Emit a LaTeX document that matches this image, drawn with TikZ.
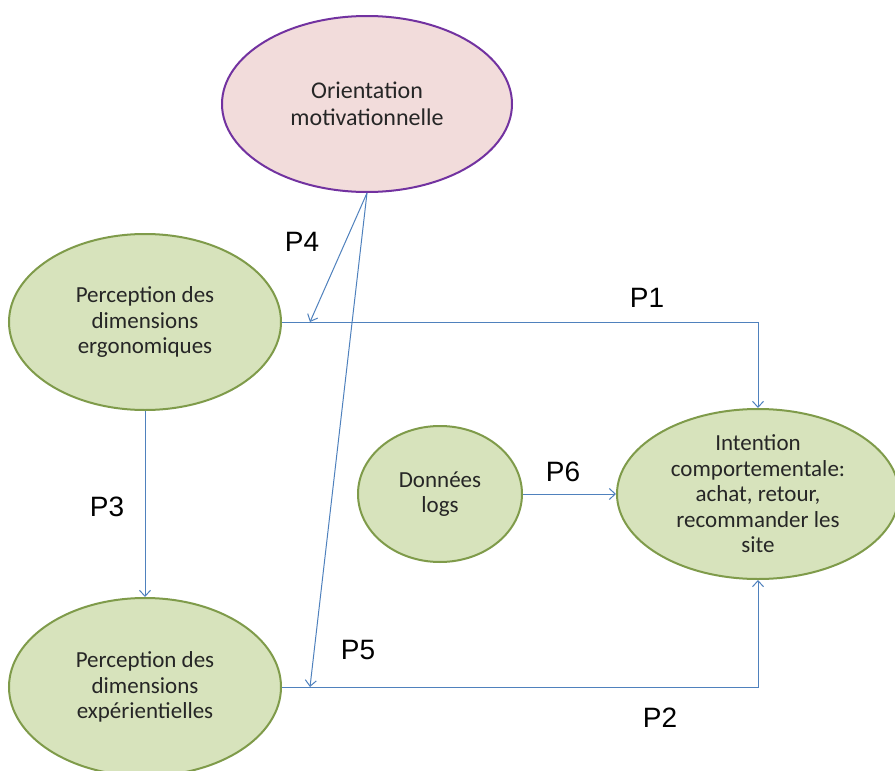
\documentclass[tikz,border=0pt]{standalone}
\usepackage{fontspec}
\setmainfont{Carlito}
\newfontfamily\labfont{Liberation Sans}
\usetikzlibrary{shapes.geometric,arrows.meta}
\definecolor{gfill}{HTML}{D7E3BC}
\definecolor{gdraw}{HTML}{7F9B4A}
\definecolor{pfill}{HTML}{F2DCDB}
\definecolor{pdraw}{HTML}{7232A0}
\definecolor{lblue}{HTML}{4F81BD}
\definecolor{txt}{HTML}{262626}
\tikzset{
  oval/.style={ellipse, draw=gdraw, fill=gfill, line width=2pt, inner sep=0pt,
    align=center, text=txt, font=\fontsize{23}{25.5}\selectfont},
  pinkoval/.style={oval, draw=pdraw, fill=pfill, font=\fontsize{24}{27}\selectfont},
  conn/.style={draw=lblue, line width=1pt, -{Straight Barb[length=6pt,width=11pt]}},
  plabel/.style={font=\labfont\fontsize{28}{30}\selectfont, text=black}
}
\begin{document}
\begin{tikzpicture}[x=1pt,y=-1pt]
\useasboundingbox (0,0) rectangle (895,771);
\fill[white] (0,0) rectangle (895,771);
\node[pinkoval, minimum width=290pt, minimum height=176pt] (orient) at (367,104) {Orientation\\motivationnelle};
\node[oval, minimum width=272pt, minimum height=176pt] (erg) at (145,322) {Perception des\\dimensions\\ergonomiques};
\node[oval, minimum width=272pt, minimum height=178pt] (exp) at (145,687) {Perception des\\dimensions\\expérientielles};
\node[oval, minimum width=164pt, minimum height=136pt] (don) at (440,494) {Données\\logs};
\node[oval, minimum width=282pt, minimum height=170pt] (int) at (758,494) {Intention\\comportementale:\\achat, retour,\\recommander les\\site};
\coordinate (p4end) at (310,322);
\coordinate (p5end) at (310,687);
\draw[conn] (erg.east) -| (int.north);
\draw[conn] (exp.east) -| (int.south);
\draw[conn] (erg.south) -- (exp.north);
\draw[conn] (orient.south) -- (p4end);
\draw[conn] (orient.south) -- (p5end);
\draw[conn] (don.east) -- (int.west);
\node[plabel] (l1) at (647,298) {P1};
\node[plabel] (l2) at (660,718) {P2};
\node[plabel] (l3) at (107,507) {P3};
\node[plabel] (l4) at (302,242) {P4};
\node[plabel] (l5) at (358,650) {P5};
\node[plabel] (l6) at (563,472) {P6};
\end{tikzpicture}
\end{document}
